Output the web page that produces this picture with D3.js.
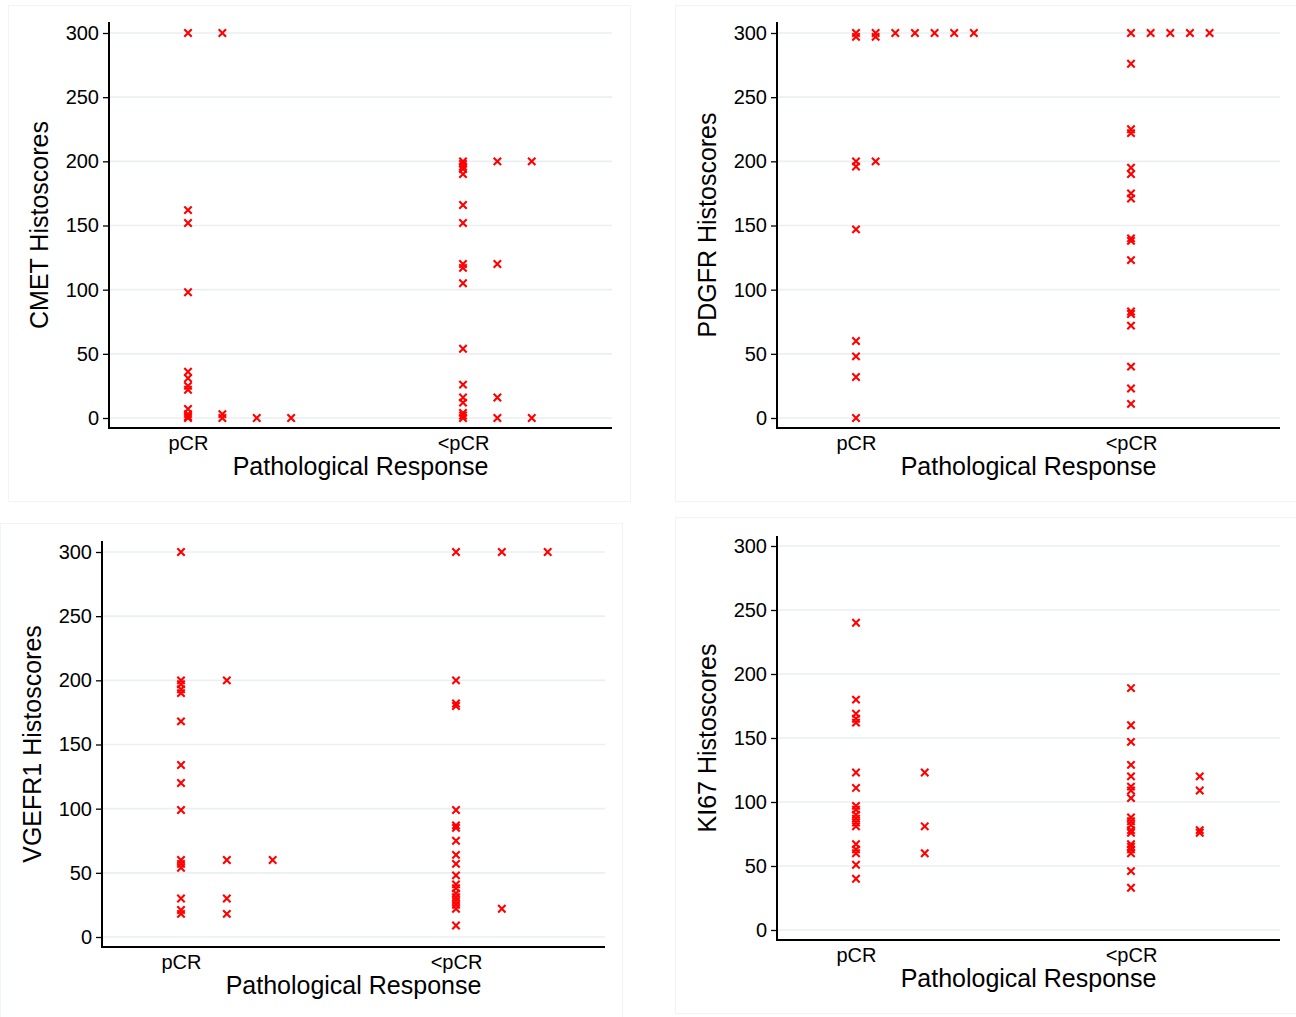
<!DOCTYPE html>
<html>
<head>
<meta charset="utf-8">
<script src="https://cdn.jsdelivr.net/npm/d3@7/dist/d3.min.js"></script>
<style>
  html, body { margin: 0; padding: 0; background: #ffffff; }
  svg { display: block; }
  text { font-family: "Liberation Sans", Arial, sans-serif; fill: #000; }
</style>
</head>
<body>
<svg id="chart" width="1296" height="1017"></svg>
<script>
// ---- data ----
const categories = ["pCR", "<pCR"];
const yTicks = [0, 50, 100, 150, 200, 250, 300];
const xTitle = "Pathological Response";

const cmetTitle = "CMET Histoscores";
const cmetPCR = [300, 300, 162, 152, 98, 36, 31, 25, 22, 7, 3, 3, 1, 0, 0, 0, 0];
const cmetLess = [200, 200, 200, 198, 196, 194, 190, 166, 152, 120, 120, 117, 105, 54, 26, 16, 16, 12, 4, 2, 0, 0, 0];

const pdgfrTitle = "PDGFR Histoscores";
const pdgfrPCR = [300, 300, 300, 300, 300, 300, 300, 297, 297, 200, 200, 196, 147, 60, 48, 32, 0];
const pdgfrLess = [300, 300, 300, 300, 300, 276, 225, 222, 195, 190, 175, 171, 140, 138, 123, 83, 81, 72, 40, 23, 11];

const vgefrTitle = "VGEFR1 Histoscores";
const vgefrPCR = [300, 200, 200, 197, 193, 190, 168, 134, 120, 99, 60, 60, 60, 57, 54, 30, 30, 21, 18, 18];
const vgefrLess = [300, 300, 300, 200, 182, 180, 99, 87, 85, 75, 64, 57, 48, 41, 38, 34, 31, 28, 25, 22, 22, 9];

const ki67Title = "KI67 Histoscores";
const ki67PCR = [240, 180, 169, 165, 162, 123, 123, 111, 97, 94, 90, 87, 84, 81, 81, 67, 63, 60, 60, 51, 40];
const ki67Less = [189, 160, 147, 129, 120, 120, 112, 109, 109, 103, 88, 85, 82, 78, 78, 76, 76, 67, 65, 63, 60, 46, 33];

// ---- layout ----
const svg = d3.select("#chart");
const panels = [
  { title: cmetTitle,  groups: [cmetPCR, cmetLess],   box: [8, 5, 622, 496],   x0: 109, x1: 612,  yTop: 22,  yBot: 428, y300: 33,  y0: 418 },
  { title: pdgfrTitle, groups: [pdgfrPCR, pdgfrLess], box: [675, 5, 621, 496], x0: 777, x1: 1280, yTop: 22,  yBot: 428, y300: 33,  y0: 418 },
  { title: vgefrTitle, groups: [vgefrPCR, vgefrLess], box: [0, 523, 622, 496], x0: 102, x1: 605,  yTop: 541, yBot: 947, y300: 552, y0: 937 },
  { title: ki67Title,  groups: [ki67PCR, ki67Less],   box: [675, 517, 621, 496], x0: 777, x1: 1280, yTop: 536, yBot: 940, y300: 546, y0: 930 }
];

const gridColor = "#e9eff2";
const tickFont = 20;
const titleFont = 25;

panels.forEach(p => {
  const g = svg.append("g");
  // panel frame
  g.append("rect").attr("x", p.box[0] + 0.5).attr("y", p.box[1] + 0.5)
    .attr("width", p.box[2]).attr("height", p.box[3])
    .attr("fill", "#fff").attr("stroke", "#f1f3f4").attr("stroke-width", 1);

  const y = d3.scaleLinear().domain([0, 300]).range([p.y0, p.y300]);
  const catPos = d3.scaleOrdinal().domain(categories).range([1, 2]);
  const x = d3.scaleLinear().domain([1, 2]).range([p.x0 + 79, p.x0 + 354]);

  // gridlines
  g.selectAll(".grid").data(yTicks).enter().append("line")
    .attr("x1", p.x0).attr("x2", p.x1)
    .attr("y1", d => y(d)).attr("y2", d => y(d))
    .attr("stroke", gridColor).attr("stroke-width", 1.6);

  // y axis
  const yAxis = d3.axisLeft(y).tickValues(yTicks).tickSize(6).tickPadding(4);
  const ya = g.append("g").attr("transform", `translate(${p.x0},0)`).call(yAxis);
  ya.select(".domain").remove();
  ya.selectAll(".tick line").attr("stroke", "#000").attr("stroke-width", 1.3);
  ya.selectAll(".tick text").attr("font-size", tickFont).attr("font-family", "Liberation Sans, Arial, sans-serif").attr("fill", "#000");
  g.append("line").attr("x1", p.x0).attr("x2", p.x0).attr("y1", p.yTop).attr("y2", p.yBot + 1)
    .attr("stroke", "#000").attr("stroke-width", 2);

  // x axis
  const xa = d3.axisBottom(d3.scaleLinear().domain(x.domain()).range(x.range()))
    .tickValues(categories.map(c => catPos(c))).tickSize(0).tickPadding(8)
    .tickFormat((d, i) => categories[i]);
  const xg = g.append("g").attr("transform", `translate(0,${p.yBot})`).call(xa);
  xg.select(".domain").remove();
  xg.selectAll(".tick text").attr("font-size", tickFont).attr("font-family", "Liberation Sans, Arial, sans-serif").attr("fill", "#000");
  g.append("line").attr("x1", p.x0).attr("x2", p.x1).attr("y1", p.yBot).attr("y2", p.yBot)
    .attr("stroke", "#000").attr("stroke-width", 2);

  // titles
  g.append("text").attr("x", (p.x0 + p.x1) / 2).attr("y", p.yBot + 47)
    .attr("text-anchor", "middle").attr("font-size", titleFont).text(xTitle);
  g.append("text")
    .attr("transform", `translate(${p.x0 - 61},${(p.yTop + p.yBot) / 2}) rotate(-90)`)
    .attr("text-anchor", "middle").attr("font-size", titleFont).text(p.title);

  // stacking of identical values (dot-plot style)
  let maxCount = 1;
  const pts = [];
  p.groups.forEach((vals, gi) => {
    const seen = new Map();
    vals.forEach(v => {
      const k = seen.get(v) || 0;
      seen.set(v, k + 1);
      maxCount = Math.max(maxCount, k + 1);
      pts.push({ cat: categories[gi], v, k });
    });
  });
  const step = 0.5 / maxCount;
  const s = 3.7;
  g.selectAll(".pt").data(pts).enter().append("path")
    .attr("d", d => {
      const cx = x(catPos(d.cat) + d.k * step), cy = y(d.v);
      return `M${cx - s},${cy - s}L${cx + s},${cy + s}M${cx - s},${cy + s}L${cx + s},${cy - s}`;
    })
    .attr("stroke", "#ff0000").attr("stroke-width", 2.1).attr("fill", "none");
});
</script>
</body>
</html>
